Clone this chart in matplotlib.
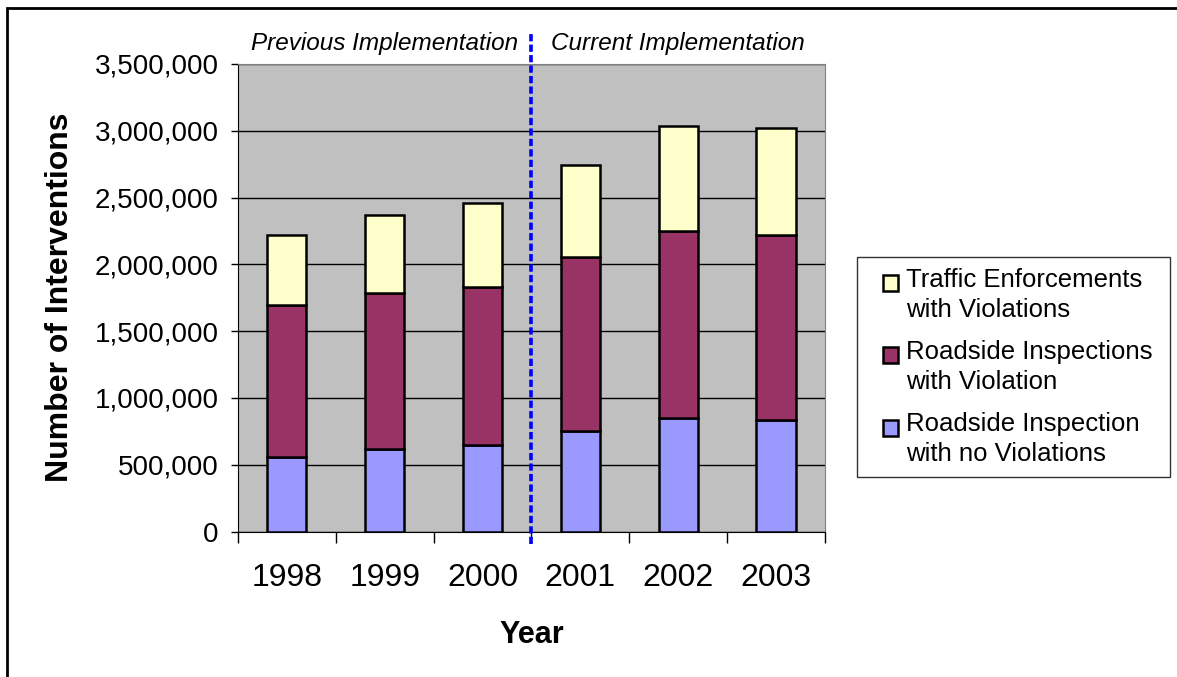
import numpy as np
import matplotlib
matplotlib.use('Agg')
import matplotlib.pyplot as plt
from matplotlib.patches import Rectangle, Patch
from matplotlib.legend_handler import HandlerPatch
from matplotlib.ticker import FuncFormatter

plt.rcParams['font.family'] = ['Liberation Sans', 'DejaVu Sans']

# data
years = ['1998', '1999', '2000', '2001', '2002', '2003']
no_violation = [561000, 621000, 651000, 756000, 849000, 834000]
inspection_violation = [1136000, 1166000, 1181000, 1300000, 1402000, 1387000]
traffic_violation = [524000, 586000, 628000, 689000, 782000, 796000]
series_names = ['Roadside Inspection\nwith no Violations',
                'Roadside Inspections\nwith Violation',
                'Traffic Enforcements\nwith Violations']
colors = ['#9999FF', '#993366', '#FFFFCC']

fig = plt.figure(figsize=(11.77, 6.77), dpi=100)
ax = fig.add_axes([0.2022, 0.2149, 0.4987, 0.6906])
ax.set_facecolor('#C0C0C0')

x = np.arange(len(years))
bottom = np.zeros(len(years))
bars = []
for vals, name, c in zip([no_violation, inspection_violation, traffic_violation],
                         series_names, colors):
    b = ax.bar(x, vals, width=0.4, bottom=bottom, color=c, edgecolor='black',
               linewidth=1.8, label=name, zorder=3)
    bars.append(b)
    bottom += np.array(vals)

ax.set_xlim(-0.5, len(years) - 0.5)
ax.set_ylim(0, 3500000)
ax.set_yticks(np.arange(0, 3500001, 500000))
ax.yaxis.set_major_formatter(FuncFormatter(lambda v, p: '{:,.0f}'.format(v)))
ax.grid(axis='y', color='black', linewidth=1, zorder=1)
ax.tick_params(axis='y', labelsize=20, length=5, width=1, pad=9)

ax.set_xticks(x)
ax.set_xticklabels(years)
ax.set_xticks(np.arange(-0.5, len(years)), minor=True)
ax.tick_params(axis='x', which='major', length=0, labelsize=23, pad=23)
ax.tick_params(axis='x', which='minor', length=8, width=1)

for s in ['top', 'right']:
    ax.spines[s].set_color('#808080')
for s in ['left', 'bottom']:
    ax.spines[s].set_color('black')

ax.set_ylabel('Number of Interventions', fontsize=23, fontweight='bold')
ax.yaxis.set_label_coords(-0.278, 0.5)
ax.set_xlabel('Year', fontsize=22, fontweight='bold')
ax.xaxis.set_label_coords(0.5, -0.19)

# split between old and new implementation
ax.axvline(2.5, ymin=-0.026, ymax=1.071, color='#0000FF', linewidth=2.6,
           linestyle=(0, (2.0, 0.9)), clip_on=False, zorder=4)
ax.text(1.0, 1.030, 'Previous Implementation', transform=ax.get_xaxis_transform(),
        ha='center', va='baseline', fontsize=17.5, style='italic')
ax.text(4.0, 1.030, 'Current Implementation', transform=ax.get_xaxis_transform(),
        ha='center', va='baseline', fontsize=17.5, style='italic')


def top_square(legend, orig_handle, xdescent, ydescent, width, height, fontsize):
    # small square next to the first line of the label
    return Rectangle((width - 11.5, 9.4), 11.5, 11.5)


handles = [b.patches[0] for b in bars][::-1]
labels = series_names[::-1]
leg = fig.legend(handles, labels, loc='upper left',
                 bbox_to_anchor=(0.728, 0.619, 0.266, 0.001), mode='expand',
                 borderaxespad=0, fontsize=18.5, frameon=True, fancybox=False,
                 edgecolor='black', handlelength=1.22, handleheight=0.9,
                 handletextpad=0.31, labelspacing=0.7, borderpad=0.4,
                 handler_map={Patch: HandlerPatch(patch_func=top_square)})
leg.get_frame().set_linewidth(1)
for t in leg.get_texts():
    t.set_linespacing(1.33)

# outer chart border
fig.patches.append(Rectangle((7 / 1177, -1), 2, 1 + 1 - 7.5 / 677, fill=False,
                             edgecolor='black', linewidth=2,
                             transform=fig.transFigure, figure=fig))

plt.savefig('out.png', format='png', dpi=100)
